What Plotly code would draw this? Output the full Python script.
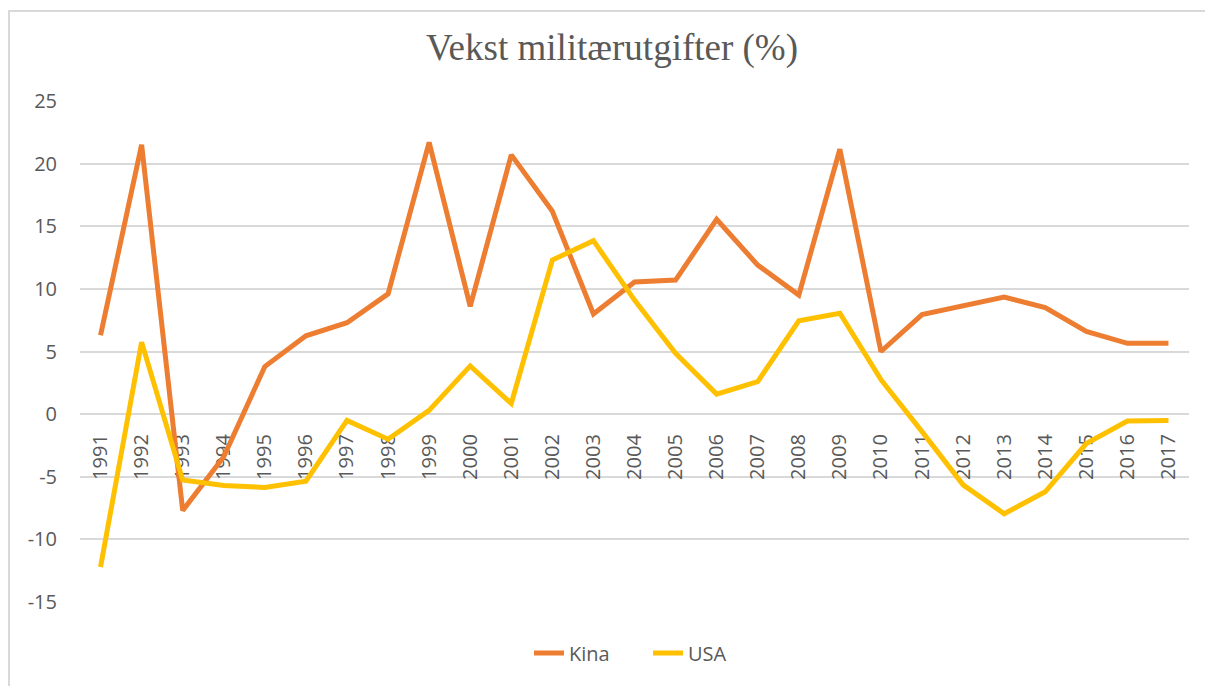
import plotly.graph_objects as go

years = list(range(1991, 2018))
kina = [6.3, 21.5, -7.7, -3.4, 3.8, 6.25, 7.3, 9.6, 21.7, 8.6, 20.7, 16.2, 8.0,
        10.55, 10.7, 15.55, 11.9, 9.5, 21.15, 5.0, 7.95, 8.6, 9.35, 8.5, 6.6, 5.65, 5.65]
usa = [-12.2, 5.75, -5.25, -5.7, -5.85, -5.35, -0.5, -2.0, 0.3, 3.85, 0.85, 12.3, 13.85,
       9.1, 4.85, 1.6, 2.6, 7.45, 8.05, 2.75, -1.4, -5.65, -7.95, -6.2, -2.35, -0.55, -0.5]
y_ticks = [25, 20, 15, 10, 5, 0, -5, -10, -15]
y_ticktext = ["25", "20", "15", "10", "5", "0", "-5", "-10", "-15"]
title_text = "Vekst militærutgifter (%)"

OFF = 8  # page body margin
W, H = 1213 - OFF, 686 - OFF
L = 80 - OFF
T = 101 - OFF
R = W - (1189 - OFF)
B = H - (602 - OFF)
pw, ph = W - L - R, H - T - B

def px_x(p):
    return (p - OFF - L) / pw

def px_y(p):
    return (H - B - (p - OFF)) / ph

grey = "#595959"
fig = go.Figure()
fig.add_trace(go.Scatter(x=years, y=kina, name="Kina", mode="lines",
                         line=dict(color="#ED7D31", width=5)))
fig.add_trace(go.Scatter(x=years, y=usa, name="USA", mode="lines",
                         line=dict(color="#FFC000", width=5)))

fig.update_layout(
    width=W, height=H,
    margin=dict(l=L, r=R, t=T, b=B),
    paper_bgcolor="white", plot_bgcolor="white",
    title=dict(text=title_text, x=(612 - OFF) / W, xanchor="center",
               y=1 - (47 - OFF) / H, yanchor="middle",
               font=dict(family="Liberation Serif", size=37, color=grey)),
    showlegend=True,
    legend=dict(orientation="h", x=px_x(648), xanchor="center", y=px_y(653), yanchor="middle",
                entrywidth=74, entrywidthmode="pixels",
                font=dict(family="Open Sans", size=20, color=grey), bgcolor="rgba(0,0,0,0)"),
    xaxis=dict(range=[1990.5, 2017.5], tickmode="array", tickvals=years,
               ticktext=[str(y) for y in years], tickangle=-90, showgrid=False,
               showline=False, zeroline=False, anchor="free", position=15 / 40,
               ticks="", ticklabelstandoff=15, layer="below traces",
               tickfont=dict(family="Open Sans", size=20, color=grey)),
    yaxis=dict(range=[-15, 25], tickmode="array", tickvals=y_ticks, ticktext=y_ticktext,
               showgrid=True, gridcolor="#D9D9D9", gridwidth=2, zeroline=False,
               showline=False, ticks="", ticklabelstandoff=22,
               tickfont=dict(family="Open Sans", size=20, color=grey)),
    shapes=[dict(type="rect", xref="paper", yref="paper",
                 x0=px_x(9), x1=px_x(1224), y0=px_y(700), y1=px_y(11),
                 line=dict(color="#D9D9D9", width=2), fillcolor="rgba(0,0,0,0)", layer="below")],
)

fig.write_html("out.html")
